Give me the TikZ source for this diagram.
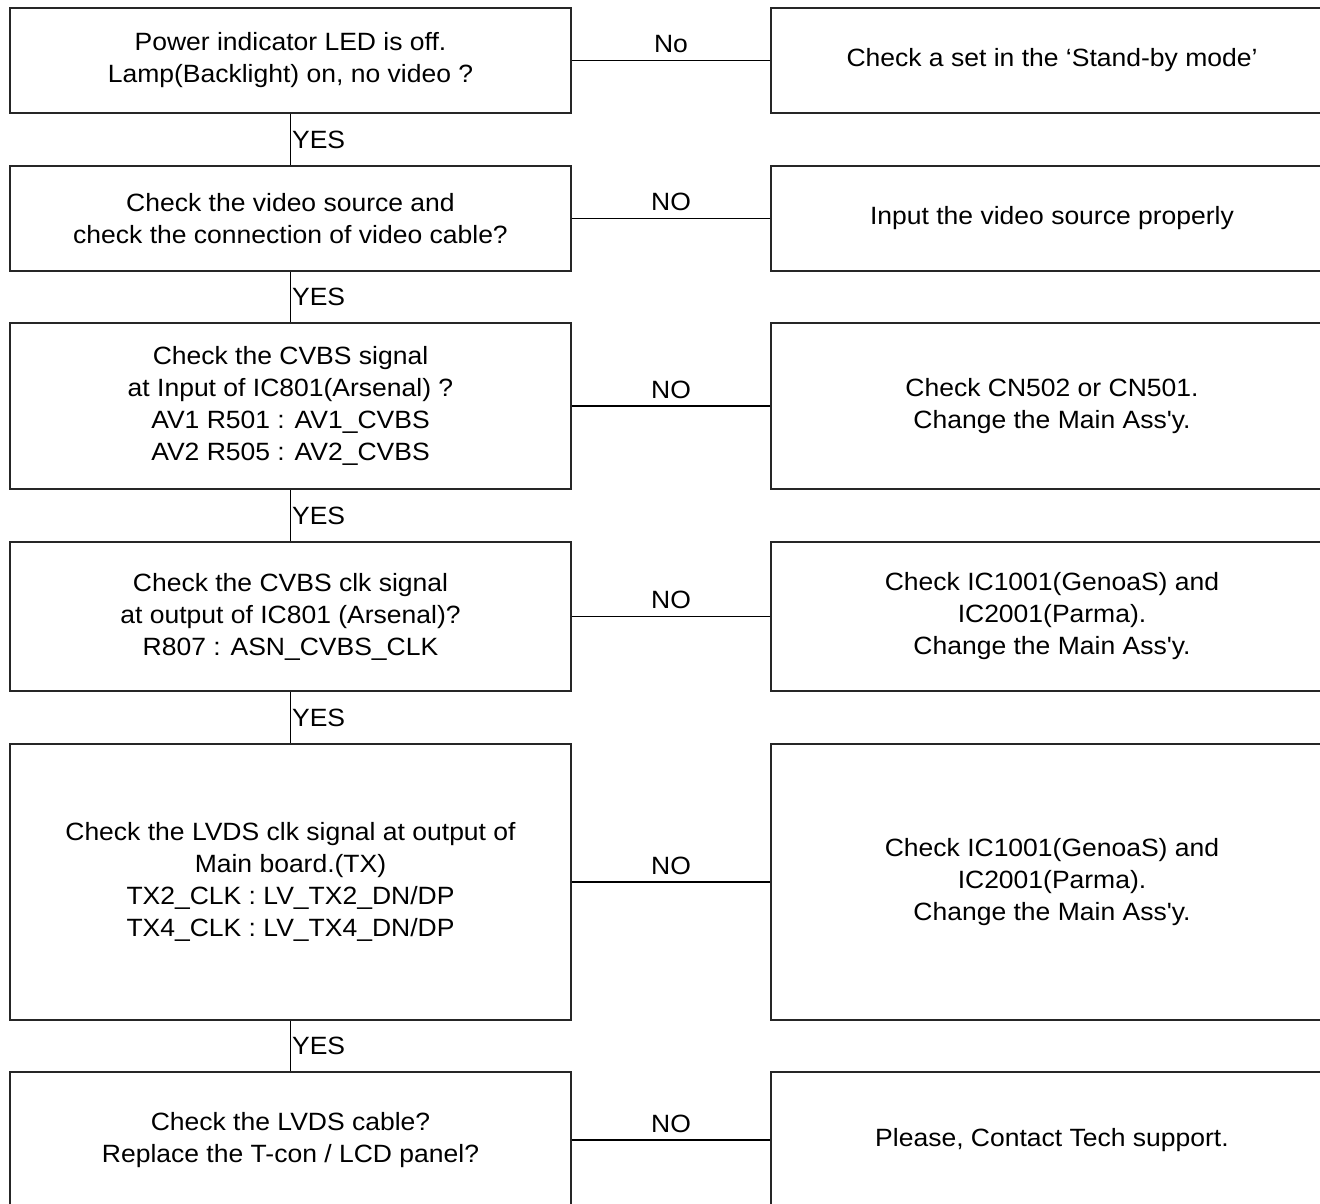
\documentclass[tikz,border=0pt]{standalone}
\usepackage{fontspec}
\newfontfamily\lsans{Liberation Sans}[FakeStretch=1.06]
\begin{document}
\begin{tikzpicture}[x=1pt,y=-1pt,
  box/.style={draw=black!85,line width=1.5pt,fill=white,inner sep=0pt,align=center,
    font=\lsans\fontsize{25}{32}\selectfont},
  lbox/.style={box,minimum width=561pt},
  rbox/.style={box,minimum width=562pt},
  conn/.style={draw=black,line width=1.2pt},
  lab/.style={font=\lsans\fontsize{25}{28}\selectfont,inner sep=0pt}]
\useasboundingbox (0,0) rectangle (1320,1204);
\clip (0,0) rectangle (1320,1204);
% row 1
\node[lbox,minimum height=105pt] (l1) at (290.5,60.5) {Power indicator LED is off.\\Lamp(Backlight) on, no video ?};
\node[rbox,minimum height=105pt] (r1) at (1052,60.5) {Check a set in the ‘Stand-by mode’};
% row 2
\node[lbox,minimum height=105pt] (l2) at (290.5,218.5) {Check the video source and\\check the connection of video cable?};
\node[rbox,minimum height=105pt] (r2) at (1052,218.5) {Input the video source properly};
% row 3
\node[lbox,minimum height=166pt] (l3) at (290.5,406) {Check the CVBS signal\\at Input of IC801(Arsenal) ?\\AV1 R501 : AV1\_CVBS\\AV2 R505 : AV2\_CVBS};
\node[rbox,minimum height=166pt] (r3) at (1052,406) {Check CN502 or CN501.\\Change the Main Ass'y.};
% row 4
\node[lbox,minimum height=149pt] (l4) at (290.5,616.5) {Check the CVBS clk signal\\at output of IC801 (Arsenal)?\\R807 : ASN\_CVBS\_CLK};
\node[rbox,minimum height=149pt] (r4) at (1052,616.5) {Check IC1001(GenoaS) and\\IC2001(Parma).\\Change the Main Ass'y.};
% row 5
\node[lbox,minimum height=276pt] (l5) at (290.5,882) {Check the LVDS clk signal at output of\\Main board.(TX)\\TX2\_CLK : LV\_TX2\_DN/DP\\TX4\_CLK : LV\_TX4\_DN/DP};
\node[rbox,minimum height=276pt] (r5) at (1052,882) {Check IC1001(GenoaS) and\\IC2001(Parma).\\Change the Main Ass'y.};
% row 6
\node[lbox,minimum height=136pt] (l6) at (290.5,1140) {Check the LVDS cable?\\Replace the T-con / LCD panel?};
\node[rbox,minimum height=136pt] (r6) at (1052,1140) {Please, Contact Tech support.};
% horizontal connectors
\draw[conn] (l1.east) -- node[lab,above=7pt] {No} (r1.west);
\foreach \i in {2,...,6}{
  \draw[conn] (l\i.east) -- node[lab,above=7pt] {NO} (r\i.west);
}
% vertical connectors
\foreach \a/\b in {1/2,2/3,3/4,4/5,5/6}{
  \draw[conn] (l\a.south) -- node[lab,right=1pt] {YES} (l\b.north);
}
\end{tikzpicture}
\end{document}
